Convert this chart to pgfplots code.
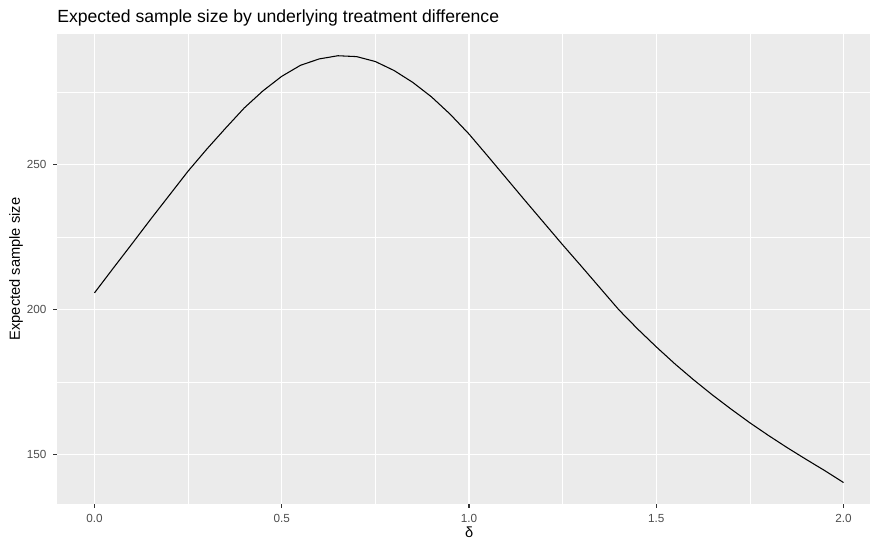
\documentclass[border=0pt]{standalone}
\usepackage{fontspec}
\setmainfont{Liberation Sans}
\usepackage{pgfplots}
\pgfplotsset{compat=1.18}
\definecolor{panelbg}{HTML}{EBEBEB}
\definecolor{tickcol}{HTML}{333333}
\definecolor{ticklab}{HTML}{4D4D4D}
\begin{document}
\begin{tikzpicture}
\useasboundingbox (0,0) rectangle (652.5pt,404.25pt);
\begin{axis}[
  at={(42.75pt,26.25pt)}, anchor=south west,
  scale only axis, width=609.75pt, height=352.5pt,
  xmin=-0.1, xmax=2.0707, ymin=133.0, ymax=295.1,
  axis background/.style={fill=panelbg},
  axis line style={draw=none},
  xtick={0,0.5,1,1.5,2}, xticklabels={0.0,0.5,1.0,1.5,2.0},
  ytick={150,200,250}, yticklabels={150,200,250},
  minor xtick={0.25,0.75,1.25,1.75}, minor ytick={175,225,275},
  grid=both,
  major grid style={white, line width=1.07pt},
  minor grid style={white, line width=0.53pt},
  tick align=outside, major tick length=2.75pt, minor tick length=0pt,
  xtick pos=bottom, ytick pos=left,
  tick style={tickcol, line width=1.07pt},
  /pgf/number format/assume math mode=true,
  tick label style={font=\fontsize{8.8}{10}\selectfont, text=ticklab, inner sep=0pt},
  xticklabel style={anchor=north, yshift=-4.5pt},
  yticklabel style={anchor=east, xshift=-5pt},
  xlabel={δ}, ylabel={Expected sample size},
  xlabel style={at={(axis description cs:0.50691,0)}, anchor=north, inner sep=0pt, yshift=-16.8pt, font=\fontsize{11}{13}\selectfont},
  ylabel style={at={(axis description cs:0,0.5)}, anchor=south, inner sep=0pt, yshift=25.3pt, font=\fontsize{11}{13}\selectfont},
  title={Expected sample size by underlying treatment difference},
  title style={at={(axis description cs:0,1)}, anchor=base west, inner sep=0pt, yshift=2.25pt, font=\fontsize{13.2}{15}\selectfont},
]
\addplot[black, line width=0.8pt, mark=none] coordinates {
(0.00,205.8) (0.05,214.3) (0.10,222.7) (0.15,231.2) (0.20,239.5)
(0.25,247.8) (0.30,255.4) (0.35,262.6) (0.40,269.6) (0.45,275.5)
(0.50,280.5) (0.55,284.3) (0.60,286.5) (0.65,287.6) (0.70,287.3)
(0.75,285.6) (0.80,282.5) (0.85,278.4) (0.90,273.4) (0.95,267.4)
(1.00,260.6) (1.05,253.0) (1.10,245.3) (1.15,237.6) (1.20,230.0)
(1.25,222.4) (1.30,215.0) (1.35,207.5) (1.40,200.0) (1.45,193.4)
(1.50,187.2) (1.55,181.3) (1.60,175.8) (1.65,170.6) (1.70,165.7)
(1.75,161.0) (1.80,156.6) (1.85,152.4) (1.90,148.4) (1.95,144.5)
(2.00,140.4)
};
\end{axis}
\end{tikzpicture}
\end{document}
